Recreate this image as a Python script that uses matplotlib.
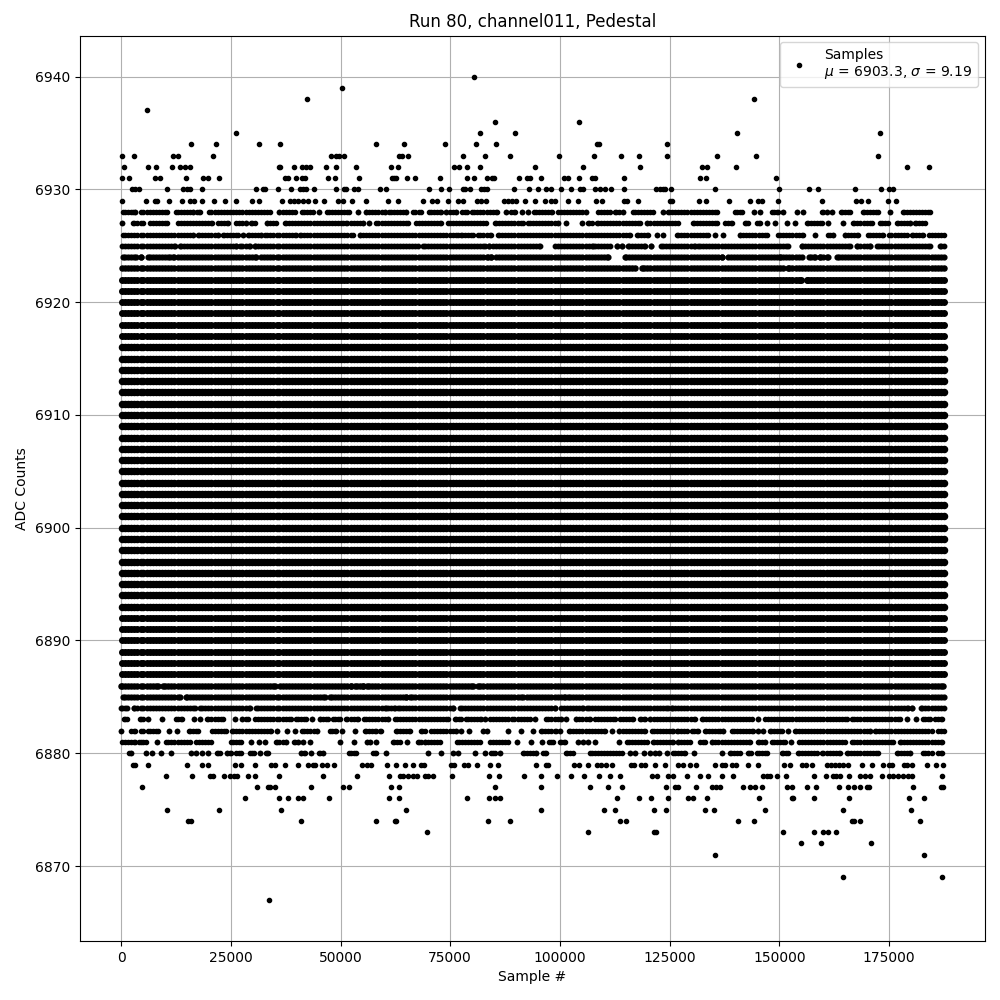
import numpy as np
import matplotlib
matplotlib.use("Agg")
import matplotlib.pyplot as plt

# sample positions used to fill the rows that look solid in the picture
dense_samples = [
    190, 870, 1600, 2280, 3010, 3700, 4420, 5090, 5830, 6510, 7240, 7920, 8650, 9340, 10050, 10730, 11460, 12140,
    12870, 13560, 14280, 14950, 15690, 16370, 17100, 17780, 18510, 19200, 19910, 20590, 21320, 22000, 22730, 23420,
    24140, 24810, 25550, 26230, 26960, 27640, 28370, 29060, 29770, 30450, 31180, 31860, 32590, 33280, 34000, 34670,
    35410, 36090, 36820, 37500, 38230, 38920, 39630, 40310, 41040, 41720, 42450, 43140, 43860, 44530, 45270, 45950,
    46680, 47360, 48090, 48780, 49490, 50170, 50900, 51580, 52310, 53000, 53720, 54390, 55130, 55810, 56540, 57220,
    57950, 58640, 59350, 60030, 60760, 61440, 62170, 62860, 63580, 64250, 64990, 65670, 66400, 67080, 67810, 68500,
    69210, 69890, 70620, 71300, 72030, 72720, 73440, 74110, 74850, 75530, 76260, 76940, 77670, 78360, 79070, 79750,
    80480, 81160, 81890, 82580, 83300, 83970, 84710, 85390, 86120, 86800, 87530, 88220, 88930, 89610, 90340, 91020,
    91750, 92440, 93160, 93830, 94570, 95250, 95980, 96660, 97390, 98080, 98790, 99470, 100200, 100880, 101610,
    102300, 103020, 103690, 104430, 105110, 105840, 106520, 107250, 107940, 108650, 109330, 110060, 110740, 111470,
    112160, 112880, 113550, 114290, 114970, 115700, 116380, 117110, 117800, 118510, 119190, 119920, 120600, 121330,
    122020, 122740, 123410, 124150, 124830, 125560, 126240, 126970, 127660, 128370, 129050, 129780, 130460, 131190,
    131880, 132600, 133270, 134010, 134690, 135420, 136100, 136830, 137520, 138230, 138910, 139640, 140320, 141050,
    141740, 142460, 143130, 143870, 144550, 145280, 145960, 146690, 147380, 148090, 148770, 149500, 150180, 150910,
    151600, 152320, 152990, 153730, 154410, 155140, 155820, 156550, 157240, 157950, 158630, 159360, 160040, 160770,
    161460, 162180, 162850, 163590, 164270, 165000, 165680, 166410, 167100, 167810, 168490, 169220, 169900, 170630,
    171320, 172040, 172710, 173450, 174130, 174860, 175540, 176270, 176960, 177670, 178350, 179080, 179760, 180490,
    181180, 181900, 182570, 183310, 183990, 184720, 185400, 186130, 186820, 187500,
]

solid_levels = [6887, 6888, 6889, 6890, 6891, 6892, 6893, 6894, 6895, 6896, 6897, 6898, 6899, 6900, 6901, 6902, 6903,
                6904, 6905, 6906, 6907, 6908, 6909, 6910, 6911, 6912, 6913, 6914, 6915, 6916, 6917, 6918, 6919, 6920,
                6921]

# upper outliers, sample positions per ADC level
p6940 = [80446]
p6939 = [50350]
p6938 = [42370, 144286]
p6937 = [5890]
p6936 = [85234, 104386]
p6935 = [26180, 81814, 89794, 140410, 173014]
p6934 = [15922, 21546, 31426, 36214, 58102, 64486, 73834, 80902, 85462, 108500, 108950, 124450]
p6933 = [190, 2926, 11818, 12958, 20938, 47842, 49058, 49700, 50806, 63346, 64000, 65322, 77938, 82954, 88654, 99826,
         107806, 113962, 118066, 124450, 135850, 144742, 172558]
p6932 = [646, 6118, 7942, 11590, 13414, 14554, 15618, 35986, 36300, 39406, 41306, 42218, 43130, 46702, 48982, 53542,
         61522, 63118, 75886, 77026, 78850, 81814, 94354, 105298, 118294, 132430, 133570, 140182, 179170, 184186]
p6931 = [190, 1786, 7714, 8854, 14782, 18658, 19874, 22306, 37354, 38038, 39862, 41306, 41914, 47158, 48754, 54226,
         61750, 62206, 62662, 65170, 66994, 72694, 78850, 80446, 83410, 84550, 85006, 90706, 92530, 93214, 95722,
         100966, 101878, 104386, 107350, 108034, 114646, 131974, 133342, 149302]
p6930 = [2470, 3078, 4066, 10450, 14098, 15010, 15618, 18430, 30742, 32338, 32700, 35758, 38722, 40698, 41500, 42218,
         43966, 48982, 50806, 51250, 53086, 53998, 58938, 60382, 70186, 72922, 74746, 77938, 78394, 79534, 82042,
         82726, 83410, 89566, 92986, 95038, 96862, 98002, 100282, 102562, 104614, 105298, 108034, 109174, 110314,
         111682, 114646, 121942, 122854, 123538, 123994, 125362, 135394, 149986, 156826, 158878, 167314, 173242,
         175066, 175978]
p6929 = [190, 5662, 7714, 8170, 10906, 13870, 15694, 16530, 18430, 21166, 23674, 26180, 29830, 31502, 36670, 38494,
         39400, 40300, 41450, 42600, 44194, 46246, 49438, 50578, 52630, 55822, 60838, 63118, 68818, 70870, 72010,
         74518, 76798, 77938, 81130, 82042, 83182, 87286, 88198, 89110, 90022, 92074, 94354, 96634, 98002, 98914,
         101878, 104158, 108262, 109630, 114646, 115330, 117838, 125134, 125590, 131746, 133342, 138586, 143374,
         145198, 146110, 149758, 159790, 167542, 168682, 170278, 174838, 176662]

# lower outliers
p6879 = [2698, 3078, 6118, 15010, 18430, 19798, 25954, 27322, 30514, 34162, 35150, 37354, 40318, 42598, 43738, 44118,
         45790, 46930, 48526, 54910, 56050, 57038, 60610, 62662, 64714, 66538, 68438, 69046, 75278, 75962, 78090,
         79002, 81130, 84094, 85918, 94582, 96862, 97318, 103246, 104310, 106438, 108490, 109402, 110542, 111758,
         116242, 116926, 118522, 119434, 121562, 123994, 126958, 127946, 129694, 131062, 135318, 136838, 137598,
         139118, 140106, 142918, 145198, 151126, 152494, 155230, 156066, 157510, 160930, 161690, 162678, 163500,
         164400, 165718, 168910, 171190, 173698, 175000, 175750, 178486, 179170, 180310, 183730, 185782, 187400]
p6878 = [10222, 16150, 20178, 20938, 23446, 24738, 25650, 26410, 28918, 30514, 35986, 46018, 53770, 61066, 63574,
         64258, 65322, 66538, 67450, 69274, 69958, 71098, 75430, 83866, 86146, 91846, 95722, 99370, 102562, 105526,
         108946, 111454, 113734, 120878, 122170, 124678, 125818, 129010, 131974, 133798, 136990, 139498, 146338,
         147100, 147858, 149530, 151582, 157890, 160702, 162298, 163000, 163818, 165794, 168378, 169500, 170658,
         173470, 175066, 176000, 177100, 178258, 179398, 180310, 187150]
p6877 = [4750, 30970, 33478, 34010, 35074, 43282, 50578, 51946, 61522, 63346, 85234, 95722, 106894, 110998, 114190,
         124222, 126198, 126958, 130910, 134710, 135600, 136458, 141778, 143298, 144438, 146110, 151810, 152950,
         156370, 158346, 163666, 165718, 167086, 168454, 169898, 170506, 180538, 186770, 187378]
p6876 = [28234, 35986, 38038, 40318, 41458, 47386, 61066, 63346, 78850, 83866, 85234, 86374, 113050, 118066, 120802,
         124678, 129238, 130226, 133570, 145426, 152798, 153178, 157966, 165946, 179626, 183046]
p6875 = [10450, 22306, 36442, 64942, 95722, 110086, 112594, 121486, 124222, 133114, 135166, 146794, 164578, 180082]
p6874 = [15238, 15998, 41002, 58102, 62434, 62738, 83638, 88654, 113734, 115102, 140638, 144286, 166630, 167086,
         168454, 182134]
p6873 = [69730, 106438, 121486, 121942, 150898, 157966, 160018, 161158, 162982]
p6872 = [154998, 159562, 170962]
p6871 = [135394, 183046]
p6869 = [164578, 187150]
p6867 = [33706]

# rows with gaps: flat start, end pairs of the stretches of dots
r6928 = [418, 2698, 3230, 3230, 4522, 10450, 12426, 16378, 17290, 18050, 20026, 33858, 35986, 39558, 41306, 43738,
         45106, 45106, 46930, 51946, 53998, 53998, 55746, 60078, 61066, 65018, 66538, 68438, 70186, 73000, 73986,
         76266, 77786, 78850, 79914, 85690, 87666, 87666, 88958, 89718, 91314, 91314, 92758, 92758, 94050, 98306,
         99598, 105906, 108718, 111378, 112518, 114418, 116698, 121258, 123538, 123538, 124678, 135698, 139878,
         141398, 144286, 144286, 145578, 145578, 148238, 149758, 150898, 150898, 153938, 153938, 155458, 155458,
         159638, 160778, 161918, 161918, 163970, 166098, 169138, 172558, 175218, 175218, 178106, 184338]
r6927 = [268, 268, 2698, 4978, 6650, 10450, 13034, 20786, 22078, 24358, 26258, 28386, 29678, 30438, 33250, 35378,
         37278, 50578, 51338, 55138, 56506, 56506, 58178, 65398, 67146, 72998, 74518, 83258, 85158, 91618, 92758,
         99598, 101498, 101498, 104918, 104918, 106438, 107198, 108338, 118218, 119738, 126958, 130226, 135698,
         137598, 139118, 142158, 142918, 144970, 145578, 147250, 147250, 148998, 148998, 151810, 151810, 153558,
         153558, 156218, 159638, 161158, 161158, 164578, 164578, 166858, 171038, 172938, 174838, 176738, 179778,
         180918, 183198]
r6926 = [418, 16378, 17518, 22078, 23218, 26638, 27778, 27778, 28918, 31958, 32718, 39938, 40698, 52858, 54378, 76798,
         77558, 80218, 81358, 84398, 85918, 107198, 107958, 115938, 117458, 120118, 122018, 122018, 123386, 123386,
         126578, 133798, 135318, 135318, 137218, 137218, 141018, 147098, 149758, 155458, 158118, 158118, 161158,
         162298, 164958, 167998, 170278, 173698, 175066, 179018, 180158, 182818, 184186, 187500]
r6925 = [266, 12198, 13338, 26258, 27018, 29298, 30438, 67678, 68818, 82878, 83866, 83866, 84778, 95418, 98838,
         107198, 107578, 111378, 112898, 112898, 114038, 114038, 115558, 119358, 120650, 120650, 122930, 130758,
         131518, 152038, 155078, 166098, 167618, 170658, 172178, 184338, 186618, 187500]
r6924 = [418, 3458, 4598, 4598, 6118, 11058, 11818, 30818, 31958, 83638, 84398, 84398, 85538, 110980, 114798, 136838,
         138358, 149378, 150138, 155078, 156826, 158118, 159258, 161158, 163058, 187500]
r6923 = [190, 117078, 118598, 150898, 152038, 187500]
r6922 = [190, 155000, 156200, 187500]
r6886 = [38, 8398, 9538, 34998, 36138, 52478, 53238, 55138, 56050, 80218, 81358, 187378]
r6885 = [418, 13338, 14706, 46398, 47538, 65018, 65930, 91618, 92530, 101118, 101878, 187500]
r6884 = [38, 1330, 2850, 16758, 18050, 29450, 30666, 60300, 60838, 62358, 63118, 75658, 77178, 98838, 100358, 105298,
         106210, 124678, 125438, 179398, 180310, 180310, 182210, 187500]
r6883 = [570, 1330, 4218, 4978, 6118, 6118, 9310, 9310, 12578, 13946, 16606, 16606, 17974, 17974, 19646, 23218, 25954,
         25954, 27626, 28918, 30590, 38798, 39938, 42066, 43586, 43586, 45258, 47158, 48298, 49818, 51186, 53998,
         55290, 60838, 62358, 74518, 76038, 77558, 78698, 82118, 82954, 82954, 84170, 88198, 89186, 93138, 94430,
         94430, 96938, 100358, 101346, 101346, 103550, 106818, 107958, 112518, 113658, 116698, 118218, 119358, 120498,
         130758, 132278, 143678, 145198, 145198, 146718, 165338, 166478, 177498, 179018, 179018, 181146, 181146,
         182818, 184338, 185478, 186998]
r6882 = [0, 0, 2318, 3078, 4598, 4978, 6118, 8398, 10906, 10906, 12806, 12806, 15466, 17518, 20786, 23978, 25346,
         34238, 35530, 35530, 37734, 37734, 39634, 39634, 41306, 44650, 47538, 49058, 50350, 50350, 53314, 53314,
         55594, 58178, 58938, 59318, 62586, 65778, 68362, 69198, 70718, 76418, 77482, 77482, 79306, 79306, 82498,
         82498, 83410, 83410, 88198, 88198, 91162, 91162, 93898, 93898, 95722, 99218, 99978, 99978, 102106, 110238,
         111910, 111910, 113506, 119358, 120878, 125818, 126600, 128858, 129998, 131518, 133038, 136458, 137218,
         137218, 139118, 144058, 145198, 145198, 146338, 146338, 147858, 150518, 152038, 152038, 153558, 170658,
         171798, 184718, 186238, 187500]
r6881 = [266, 3078, 4066, 5738, 8170, 8170, 10298, 15618, 17138, 20558, 25118, 27398, 29678, 29678, 31426, 31426,
         32794, 32794, 35378, 37506, 39330, 40318, 41458, 41458, 42978, 42978, 49818, 49818, 53086, 53086, 56050,
         56050, 56810, 56810, 58026, 58026, 61978, 63498, 65094, 65094, 67678, 68438, 69198, 72618, 76570, 81738,
         84170, 88198, 90250, 90250, 93442, 93442, 95950, 95950, 97546, 98458, 99978, 101118, 104158, 104158, 105298,
         105298, 106438, 106438, 107958, 107958, 113506, 113506, 115330, 119738, 121258, 125818, 126958, 129618,
         131898, 133038, 134558, 143298, 145198, 146718, 148238, 151278, 152570, 152570, 154546, 164958, 166478,
         175978, 177498, 186998]
r6880 = [1786, 2318, 5662, 5662, 7030, 7030, 9082, 9082, 11362, 11362, 15922, 15922, 17138, 17138, 18430, 18430, 19798,
         19798, 21850, 22458, 24130, 25118, 26258, 27322, 29374, 30286, 31654, 31654, 33098, 33478, 41002, 41838,
         43358, 43358, 45106, 46018, 51946, 53466, 57418, 58178, 60382, 60382, 69958, 69958, 72922, 72922, 75658,
         75658, 76798, 76798, 80674, 80674, 82954, 82954, 84398, 85158, 86374, 86374, 91618, 94658, 96178, 96938,
         101346, 103018, 106818, 114038, 115938, 115938, 117154, 117154, 119206, 119206, 120574, 120574, 121714,
         121714, 122626, 122626, 124450, 124450, 125818, 128478, 130530, 130530, 136990, 136990, 138738, 141018,
         142918, 143450, 144818, 147098, 150518, 152038, 154318, 158498, 159638, 163818, 165338, 172558, 176738,
         179778, 182818, 184718, 186238, 186998]

point_levels = [6940, 6939, 6938, 6937, 6936, 6935, 6934, 6933, 6932, 6931, 6930, 6929,
                6879, 6878, 6877, 6876, 6875, 6874, 6873, 6872, 6871, 6869, 6867]
point_rows = [p6940, p6939, p6938, p6937, p6936, p6935, p6934, p6933, p6932, p6931, p6930, p6929,
              p6879, p6878, p6877, p6876, p6875, p6874, p6873, p6872, p6871, p6869, p6867]
run_levels = [6928, 6927, 6926, 6925, 6924, 6923, 6922, 6886, 6885, 6884, 6883, 6882, 6881, 6880]
run_rows = [r6928, r6927, r6926, r6925, r6924, r6923, r6922, r6886, r6885, r6884, r6883, r6882, r6881, r6880]


def expand_runs(runs, dense):
    # keep the filler samples that fall inside a stretch, plus the stretch ends
    xs = []
    for start, end in zip(runs[::2], runs[1::2]):
        xs.extend([start, end])
        xs.extend(s for s in dense if start < s < end)
    return xs


def row_marker_size(level):
    # busy rows saturate the antialiased edge of the dots, so they print fatter
    if 6893 <= level <= 6916:
        return 8.8
    if 6887 <= level <= 6922:
        return 8.0
    if level in (6886, 6923):
        return 7.3
    if level in (6885, 6924):
        return 6.9
    if level in (6884, 6925):
        return 6.4
    return 6


plt.figure(figsize=(10, 10))
plt.subplots_adjust(left=0.0800, right=0.985, top=0.9645, bottom=0.059)

for level in solid_levels:
    plt.plot(np.array(dense_samples), np.full(len(dense_samples), level), '.', color='black',
             ms=row_marker_size(level))
for level, row in zip(run_levels, run_rows):
    row_x = expand_runs(row, dense_samples)
    plt.plot(np.array(row_x), np.full(len(row_x), level), '.', color='black', ms=row_marker_size(level))
for i, (level, row) in enumerate(zip(point_levels, point_rows)):
    label = 'Samples\n' + r'$\mu$ = 6903.3, $\sigma$ = 9.19' if i == 0 else None
    plt.plot(np.array(row), np.full(len(row), level), '.', color='black', label=label)

plt.xlabel('Sample #')
plt.ylabel('ADC Counts')
plt.title('Run 80, channel011, Pedestal')
plt.legend(loc='upper right')
plt.grid(True)
plt.savefig('out.png', dpi=100)
